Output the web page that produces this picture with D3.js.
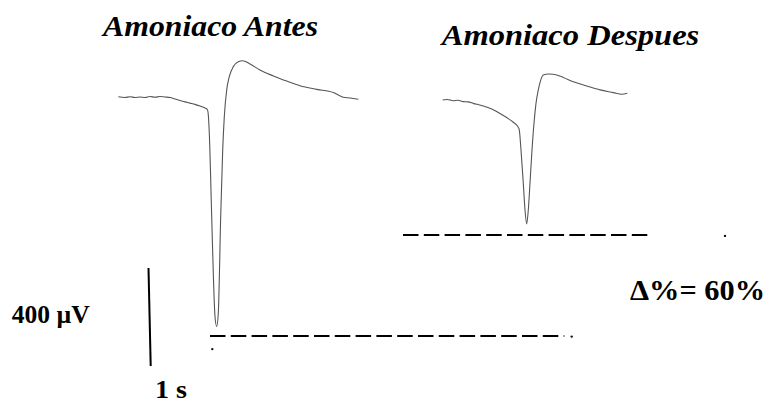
<!DOCTYPE html>
<html>
<head>
<meta charset="utf-8">
<script src="https://cdn.jsdelivr.net/npm/d3@7"></script>
<style>
  html, body { margin: 0; padding: 0; background: #fff; }
  svg { display: block; }
</style>
</head>
<body>
<svg id="chart" width="771" height="403"></svg>
<script>
// ---- Data (time in ms, voltage in µV relative to baseline) ----
const antesTime = [0, 67, 117, 167, 217, 267, 317, 367, 417, 467, 517, 567, 617, 667, 717, 767, 817, 867, 890, 900, 910, 934, 952, 967, 984, 1000, 1024, 1044, 1060, 1084, 1110, 1150, 1200, 1244, 1317, 1417, 1550, 1684, 1817, 1984, 2150, 2200, 2250, 2317, 2400];
const antesVolt = [1, -2, 1, -2, 0, -2, 2, -1, 2, 0, -2, -8, -14, -20, -25, -30, -37, -45, -51, -73, -148, -489, -747, -897, -937, -882, -489, -216, -80, 29, 83, 124, 144, 148, 135, 110, 86, 65, 46, 31, 18, 8, -1, -4, -9];

const despuesTime = [0, 43, 106, 153, 206, 253, 306, 406, 490, 573, 640, 706, 756, 766, 783, 806, 823, 840, 856, 873, 893, 913, 933, 956, 980, 1006, 1056, 1106, 1206, 1306, 1440, 1573, 1706, 1790, 1846];
const despuesVolt = [-12, -10, -15, -13, -19, -20, -26, -37, -49, -67, -84, -103, -124, -135, -216, -352, -461, -518, -461, -352, -216, -107, -26, 29, 69, 90, 94, 93, 80, 62, 45, 29, 18, 11, 15];

// peak reference (dashed) lines: level (µV) and time extent (ms) on each panel
const antesRefLevel = -975;
const antesRefSpan = [917, 4460];
const antesRefDots = [[4534, -978], [940, -1029]];
const despuesRefLevel = -563;
const despuesRefSpan = [-397, 2073];
const despuesRefDots = [[2823, -567]];

// scale bar
const scaleBarVolt = 400;   // µV
const scaleBarTop = -698;   // µV level of the bar top
const scaleBarTime = [302, 324]; // ms (top, bottom)

const titles = ["Amoniaco Antes", "Amoniaco Despues"];
const voltLabel = "400 \u00b5V";
const timeLabel = "1 s";
const deltaLabel = "\u0394%= 60%";

// ---- Scales ----
const svg = d3.select("#chart");
const pxPerMs = 0.1;
const y = d3.scaleLinear().domain([0, -400]).range([97, 195]);
const xA = d3.scaleLinear().domain([0, 2400]).range([118.3, 118.3 + 2400 * pxPerMs]);
const xD = d3.scaleLinear().domain([0, 1846]).range([442.7, 442.7 + 1846 * pxPerMs]);

const line = (xs) => d3.line().x(d => xs(d[0])).y(d => y(d[1])).curve(d3.curveMonotoneX);

const antes = antesTime.map((t, i) => [t, antesVolt[i]]);
const despues = despuesTime.map((t, i) => [t, despuesVolt[i]]);

svg.append("path").datum(antes).attr("d", line(xA))
  .attr("fill", "none").attr("stroke", "#555").attr("stroke-width", 1.1);
svg.append("path").datum(despues).attr("d", line(xD))
  .attr("fill", "none").attr("stroke", "#555").attr("stroke-width", 1.1);

// dashed reference lines
function refLine(xs, span, level) {
  svg.append("line")
    .attr("x1", xs(span[0])).attr("x2", xs(span[1]))
    .attr("y1", y(level)).attr("y2", y(level))
    .attr("stroke", "#000").attr("stroke-width", 2)
    .attr("stroke-dasharray", "15.5,5.3");
}
refLine(xA, antesRefSpan, antesRefLevel);
refLine(xD, despuesRefSpan, despuesRefLevel);
function dots(xs, pts) {
  svg.selectAll(null).data(pts).enter().append("circle")
    .attr("cx", d => xs(d[0])).attr("cy", d => y(d[1])).attr("r", 1.2).attr("fill", "#111");
}
dots(xA, antesRefDots);
dots(xD, despuesRefDots);

// scale bar
svg.append("line")
  .attr("x1", xA(scaleBarTime[0])).attr("x2", xA(scaleBarTime[1]))
  .attr("y1", y(scaleBarTop)).attr("y2", y(scaleBarTop - scaleBarVolt))
  .attr("stroke", "#000").attr("stroke-width", 2);

// texts
const serif = "'Liberation Serif', 'Times New Roman', Times, serif";
function txt(s, x, yb, size, width, italic) {
  svg.append("text").text(s)
    .attr("x", x).attr("y", yb)
    .attr("font-family", serif)
    .style("font-family", serif)
    .attr("fill", "#000")
    .attr("font-size", size).attr("font-weight", "bold")
    .attr("font-style", italic ? "italic" : "normal")
    .attr("textLength", width).attr("lengthAdjust", "spacingAndGlyphs");
}
txt(titles[0], 103, 35.7, 28.5, 215, true);
txt(titles[1], 441.7, 45, 28.5, 257.6, true);
txt(voltLabel, 11.7, 323.3, 24.5, 78, false);
txt(timeLabel, 155, 397.5, 25, 32, false);
txt(deltaLabel, 630, 300, 29.5, 135, false);
</script>
</body>
</html>
